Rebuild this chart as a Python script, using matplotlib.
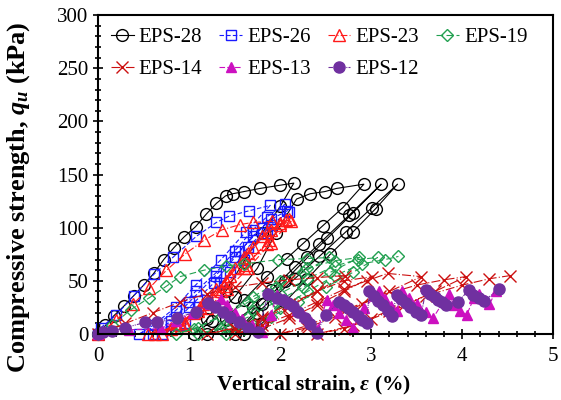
import matplotlib
matplotlib.use("Agg")
import matplotlib.pyplot as plt
from matplotlib.ticker import MultipleLocator

plt.rcParams['font.family'] = 'Liberation Serif'
plt.rcParams['mathtext.fontset'] = 'custom'
plt.rcParams['mathtext.rm'] = 'Liberation Serif'
plt.rcParams['mathtext.it'] = 'Liberation Serif:italic:bold'
plt.rcParams['mathtext.bf'] = 'Liberation Serif:bold'

# cyclic loading data, strain (%) and stress (kPa)
eps28 = [0, 0.08, 0.17, 0.28, 0.39, 0.5, 0.61, 0.72, 0.83, 0.94, 1.07, 1.19, 1.3, 1.4, 1.48, 1.6, 1.78, 2.0, 2.15,
         2.0, 1.8, 1.6, 1.4, 1.2, 1.05,
         1.25, 1.5, 1.75, 1.95, 2.18, 2.33, 2.49, 2.62, 2.92,
         2.69, 2.47, 2.25, 2.07, 1.85, 1.6, 1.4, 1.2,
         1.45, 1.7, 1.9, 2.16, 2.43, 2.76, 3.11,
         2.8, 2.52, 2.3, 2.05, 1.8, 1.5,
         1.75, 2.16, 2.43, 2.72, 3.01, 3.29,
         3.05, 2.8, 2.55, 2.3, 2.05, 1.8, 1.6]
q28 = [0, 8, 17, 26, 36, 46, 57, 70, 81, 91, 101, 113, 123, 130, 132, 134, 137, 140, 142,
       120, 95, 68, 40, 14, 0,
       12, 35, 62, 95, 127, 132, 134, 137, 141,
       119, 102, 85, 71, 54, 32, 14, 0,
       8, 25, 41, 63, 85, 112, 141,
       114, 90, 72, 50, 28, 0,
       20, 52, 73, 96, 119, 141,
       118, 96, 75, 52, 30, 10, 0]

eps26 = [0, 0.03, 0.2, 0.39, 0.61, 0.82, 1.08, 1.3, 1.44, 1.66, 1.89,
         1.62, 1.35, 1.07, 0.85, 0.6, 0.45,
         0.6, 0.85, 1.07, 1.3, 1.5, 1.7, 1.85, 2.05,
         1.8, 1.55, 1.29, 1.0, 0.8, 0.6,
         0.8, 1.0, 1.27, 1.5, 1.7, 1.9, 2.08,
         1.85, 1.6, 1.34, 1.1, 0.9, 0.7,
         0.95, 1.2, 1.45, 1.65, 1.9, 2.1]
q26 = [0, 6, 18, 36, 56, 72, 92, 105, 111, 116, 121,
       96, 70, 46, 25, 8, 0,
       6, 22, 40, 58, 78, 98, 110, 122,
       100, 78, 55, 30, 12, 0,
       8, 25, 48, 72, 92, 108, 116,
       95, 70, 48, 25, 8, 0,
       10, 32, 58, 82, 103, 115]

eps23 = [0, 0.2, 0.38, 0.56, 0.75, 0.95, 1.16, 1.36, 1.56, 1.7, 1.91, 2.06,
         1.85, 1.6, 1.35, 1.1, 0.8, 0.55,
         0.8, 1.05, 1.3, 1.5, 1.7, 1.9, 2.1,
         1.88, 1.62, 1.38, 1.12, 0.9, 0.62,
         0.9, 1.15, 1.4, 1.6, 1.8, 2.0, 2.12,
         1.9, 1.65, 1.42, 1.2, 0.95, 0.7,
         0.95, 1.2, 1.45, 1.65, 1.85, 2.0]
q23 = [0, 13, 28, 43, 60, 75, 88, 98, 103, 105, 106, 107,
       85, 62, 40, 22, 6, 0,
       5, 20, 42, 62, 82, 98, 108,
       88, 65, 45, 25, 10, 0,
       8, 28, 50, 72, 92, 104, 106,
       86, 62, 42, 24, 8, 0,
       10, 30, 55, 76, 95, 103]

eps19 = [0, 0.15, 0.36, 0.56, 0.75, 0.9, 1.16, 1.4, 1.6, 1.98, 2.3, 2.54,
         2.25, 1.95, 1.65, 1.35, 1.05, 0.85,
         1.1, 1.4, 1.7, 2.0, 2.3, 2.6, 2.87,
         2.55, 2.25, 1.95, 1.65, 1.35, 1.1,
         1.4, 1.7, 2.0, 2.3, 2.6, 2.85, 3.07,
         2.8, 2.5, 2.2, 1.9, 1.6, 1.4,
         1.7, 2.0, 2.3, 2.6, 2.9, 3.15, 3.3]
q19 = [0, 8, 23, 34, 45, 54, 60, 64, 66, 70, 71, 72,
       58, 44, 30, 16, 5, 0,
       6, 20, 35, 50, 62, 69, 72,
       58, 44, 30, 16, 5, 0,
       7, 22, 38, 52, 64, 70, 72,
       58, 44, 30, 16, 5, 0,
       8, 24, 40, 55, 66, 70, 73]

eps14 = [0, 0.3, 0.6, 0.9, 1.2, 1.5, 1.8, 2.1, 2.4, 2.71,
         2.4, 2.1, 1.8, 1.5, 1.2,
         1.5, 1.8, 2.1, 2.4, 2.7, 3.01,
         2.7, 2.4, 2.1, 1.8, 1.5,
         1.8, 2.1, 2.4, 2.7, 2.95, 3.18, 3.55,
         3.2, 2.9, 2.6, 2.3, 2.0,
         2.3, 2.7, 3.1, 3.5, 3.8, 4.04,
         3.7, 3.35, 3.0, 2.7, 2.4,
         2.8, 3.2, 3.6, 4.0, 4.3, 4.53]
q14 = [0, 10, 20, 30, 38, 44, 48, 51, 53, 55,
       40, 26, 14, 5, 0,
       6, 16, 28, 40, 50, 54,
       40, 27, 15, 5, 0,
       8, 18, 30, 42, 50, 57, 54,
       40, 28, 16, 6, 0,
       8, 22, 36, 46, 51, 54,
       40, 26, 14, 5, 0,
       8, 22, 36, 46, 52, 55]

eps13 = [0, 0.34, 0.69, 0.85, 1.04, 1.23, 1.35,
         1.42, 1.5, 1.58, 1.69, 1.8,
         1.9, 1.96,
         2.04, 2.1, 2.18, 2.26, 2.34, 2.42,
         2.51,
         2.58, 2.65, 2.72, 2.8,
         2.92, 3.09,
         3.15, 3.22, 3.28,
         3.34,
         3.42, 3.5, 3.6, 3.68,
         3.85,
         3.91, 3.98, 4.05,
         4.13, 4.18,
         4.25, 4.3,
         4.37]
q13 = [0, 4, 5, 12, 20, 28, 33,
       27, 20, 14, 8, 2,
       18, 37,
       33, 29, 23, 17, 11, 5,
       32,
       27, 20, 13, 6,
       24, 40,
       33, 26, 22,
       40,
       34, 28, 21, 15,
       38,
       27, 22, 18,
       34, 38,
       32, 28,
       40]

eps12 = [0, 0.05, 0.15, 0.3, 0.52, 0.65, 0.87, 1.07, 1.21,
         1.28, 1.37, 1.45, 1.55, 1.65, 1.76,
         1.87,
         1.96, 2.03, 2.09, 2.14, 2.2, 2.27, 2.33, 2.4,
         2.5, 2.65,
         2.7, 2.75, 2.8, 2.85, 2.9, 2.95,
         2.98,
         3.03, 3.08, 3.13, 3.18, 3.23,
         3.28,
         3.33, 3.38, 3.43, 3.49, 3.55,
         3.6,
         3.65, 3.7, 3.74, 3.78, 3.82,
         3.95, 4.07,
         4.12, 4.18, 4.24,
         4.4]
q12 = [0, 2, 3, 6, 11, 11, 15, 21, 29,
       25, 21, 16, 11, 6, 2,
       38,
       34, 32, 29, 26, 21, 15, 9, 1,
       18, 30,
       27, 24, 21, 17, 13, 10,
       40,
       36, 31, 27, 22, 17,
       37,
       33, 29, 25, 21, 18,
       41,
       38, 35, 32, 30, 27,
       30, 41,
       37, 34, 31,
       42]

labels = ['EPS-28', 'EPS-26', 'EPS-23', 'EPS-19', 'EPS-14', 'EPS-13', 'EPS-12']
data = [(eps28, q28), (eps26, q26), (eps23, q23), (eps19, q19),
        (eps14, q14), (eps13, q13), (eps12, q12)]
styles = [
    dict(color='black', ls='-', marker='o', ms=8.5, mfc='none'),
    dict(color='#1a1aff', ls=(0, (4, 2)), marker='s', ms=7.5, mfc='none'),
    dict(color='#ff1a1a', ls=(0, (6, 2, 1, 2)), marker='^', ms=8.5, mfc='none'),
    dict(color='#22a050', ls=(0, (6, 3)), marker='D', ms=6, mfc='none'),
    dict(color='#cc1010', ls=(0, (8, 2, 1, 2)), marker='x', ms=8.5, mew=1.0),
    dict(color='#cc10c0', ls=(0, (5, 2)), marker='^', ms=7.5),
    dict(color='#7030a0', ls=(0, (4, 1, 1, 1, 1, 1)), marker='o', ms=8),
]

fig, ax = plt.subplots(figsize=(5.61, 4.0), dpi=100)
fig.subplots_adjust(left=0.175, right=0.986, bottom=0.165, top=0.962)

handles = []
for (x, y), lab, st in zip(data, labels, styles):
    h, = ax.plot(x, y, lw=0.8, label=lab, clip_on=False, **st)
    handles.append(h)

ax.set_xlim(0, 5)
ax.set_ylim(0, 300)
ax.xaxis.set_major_locator(MultipleLocator(1))
ax.xaxis.set_minor_locator(MultipleLocator(0.2))
ax.yaxis.set_major_locator(MultipleLocator(50))
ax.yaxis.set_minor_locator(MultipleLocator(10))
ax.tick_params(which='both', direction='inout', top=False, right=False, labelsize=15, width=1.2)
ax.tick_params(which='major', length=7)
ax.tick_params(which='minor', length=4)
ax.tick_params(axis='x', pad=6)
for s in ax.spines.values():
    s.set_linewidth(1.5)

ax.set_xlabel(r'Vertical strain, $\varepsilon$ (%)', fontsize=15.5, fontweight='bold')
ax.set_ylabel(r'Compressive strength, $q_u$ (kPa)', fontsize=19, fontweight='bold')
ax.xaxis.set_label_coords(0.473, -0.125)
ax.yaxis.set_label_coords(-0.145, 0.43)

order = [0, 4, 1, 5, 2, 6, 3]
ax.legend([handles[i] for i in order], [labels[i] for i in order], ncol=4, loc='upper left',
          frameon=False, fontsize=15, handlelength=1.1, handletextpad=0.25,
          columnspacing=0.8, borderaxespad=0.2, labelspacing=0.6, borderpad=0.4)

fig.savefig('out.png', dpi=100)
